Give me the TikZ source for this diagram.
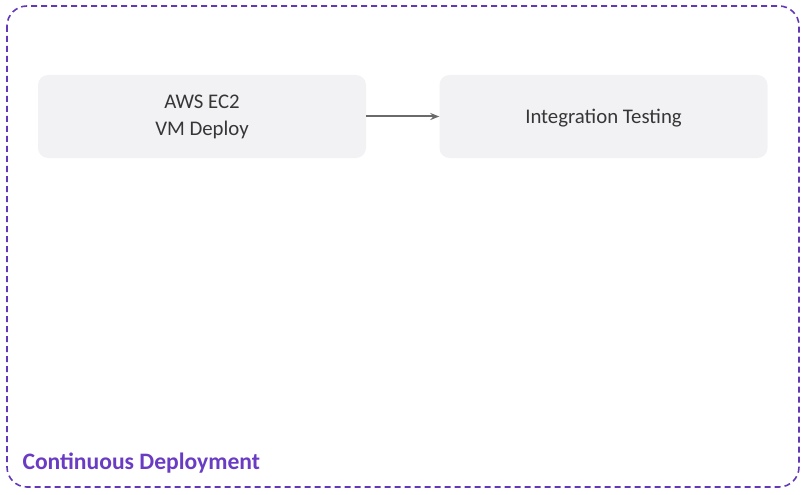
\documentclass[tikz,border=0pt]{standalone}
\usepackage{fontspec}
\setmainfont{Carlito}
\usetikzlibrary{positioning, arrows.meta}

\definecolor{boxgray}{HTML}{F2F1F4}
\definecolor{textgray}{HTML}{363636}
\definecolor{arrowgray}{HTML}{6A6A6A}
\definecolor{framepurple}{HTML}{6238B8}
\definecolor{labelpurple}{HTML}{6A3CC4}

\begin{document}
\begin{tikzpicture}[x=1pt, y=-1pt,
  stage/.style={rectangle, rounded corners=10pt, fill=boxgray, minimum width=328pt,
    minimum height=83pt, align=center, text=textgray, font=\fontsize{20.8}{27}\selectfont}]
\useasboundingbox (0, 0) rectangle (807, 495);
\draw[framepurple, line width=1.6pt, dash pattern=on 6pt off 4pt, rounded corners=20pt] (7, 6) rectangle (799, 487);

\node[stage] (ec2) at (202, 116.5) {AWS EC2\\VM Deploy};
\node[stage, text depth=0pt] (test) at (603.5, 116.5) {Integration Testing};
\draw[arrowgray, line width=2pt, -{Stealth[length=9pt, width=7pt]}] (ec2) -- (test);

\node[anchor=west, text=labelpurple, font=\bfseries\fontsize{23.6}{26}\selectfont] (cd) at (19, 463) {Continuous Deployment};

\end{tikzpicture}
\end{document}
